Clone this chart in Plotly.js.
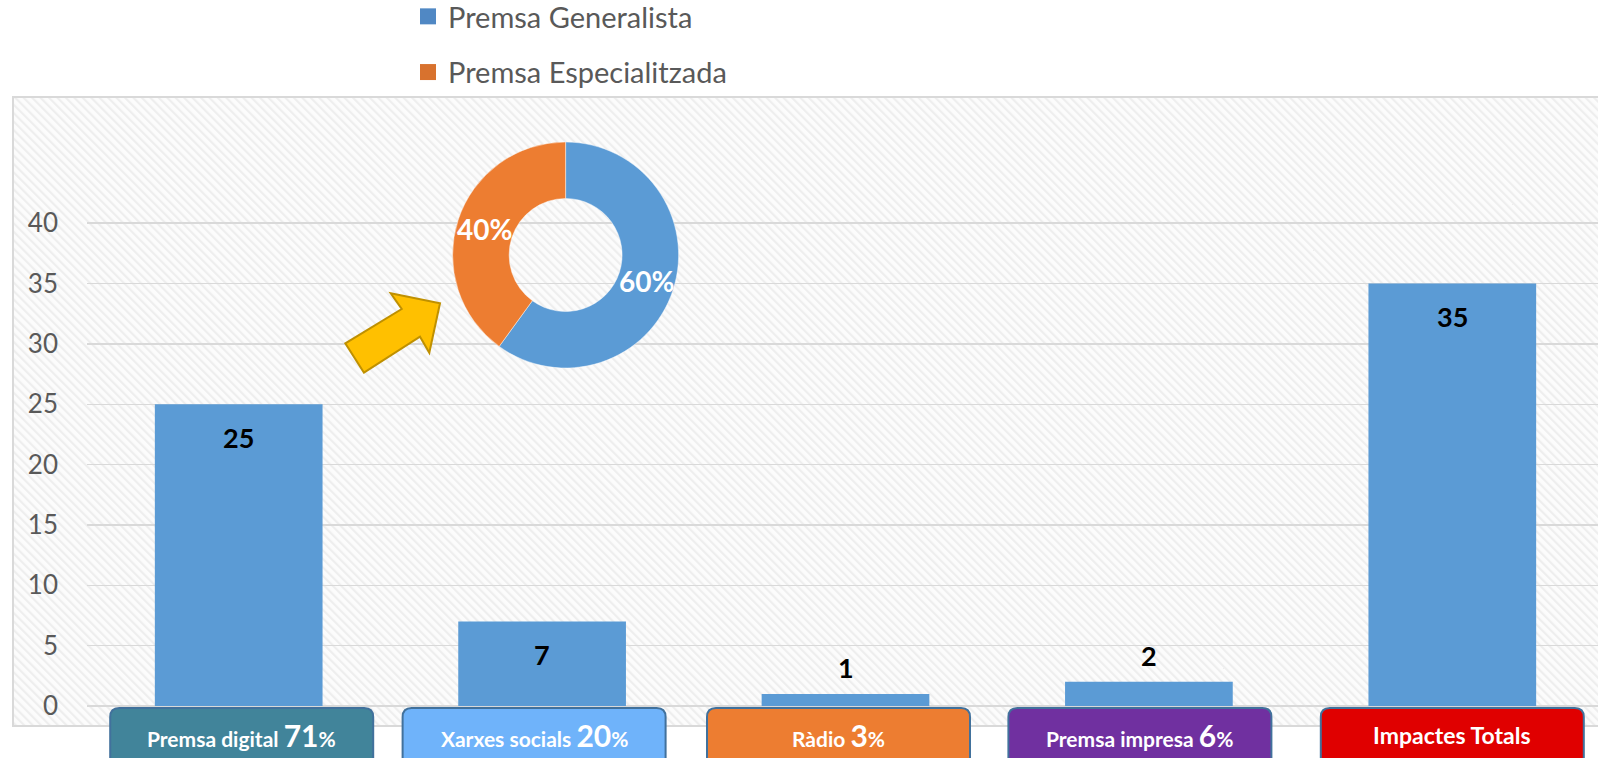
<!DOCTYPE html>
<html><head><meta charset="utf-8">
<script src="https://cdn.plot.ly/plotly-3.0.1.min.js"></script>
<style>html,body{margin:0;padding:0;background:#fff;overflow:hidden}</style>
</head><body><div id="chart" style="width:1598px;height:758px"></div>
<script>
// ---- data ----
const categories = ['Premsa digital', 'Xarxes socials', 'Ràdio', 'Premsa impresa', 'Impactes Totals'];
const impactes = [25, 7, 1, 2, 35];
const shares = [71, 20, 3, 6, null];
const pieLabels = ['Premsa Generalista', 'Premsa Especialitzada'];
const pieValues = [60, 40];
const yTicks = [0, 5, 10, 15, 20, 25, 30, 35, 40];

// ---- styles ----
const barColor = '#5b9bd5';
const pieColors = ['#5b9bd5', '#ed7d31'];
const legendColors = ['#5088c4', '#d8722e'];
const boxColors = ['#41849a', '#6fb3fa', '#ed7d31', '#7030a0', '#e00000'];
const boxShiftPx = [3, -8, -7, -9, 0];
const FONT = 'Lato, Carlito, "Open Sans", sans-serif';

// ---- layout geometry (pixels) ----
const W = 1598, H = 758, L = 87, R = 0, T = 97, B = 52;
const PW = W - L - R, PH = H - T - B;
const px = x => (x - L) / PW;
const py = y => (H - B - y) / PH;
const unitPx = 12.07;
const yMax = PH / unitPx;
const catStep = 303.4;
const xMax = -0.5 + PW / catStep;
const pieBox = {x0: 452.6, x1: 678.6, y0: 142, y1: 368};
const pieHole = 0.5;

// hatched background
const hatchSvg = "<svg xmlns='http://www.w3.org/2000/svg' width='1600' height='630'>" +
  "<defs><pattern id='p' width='6' height='6' patternUnits='userSpaceOnUse' patternTransform='rotate(-45)'>" +
  "<rect width='6' height='6' fill='#fcfcfc'/><rect width='2.2' height='6' fill='#eeeeee'/></pattern></defs>" +
  "<rect width='100%' height='100%' fill='url(#p)'/></svg>";
const hatchUri = 'data:image/svg+xml;charset=utf-8,' + encodeURIComponent(hatchSvg);

const traces = [];
traces.push({
  type: 'bar', x: categories, y: impactes,
  marker: {color: barColor}, showlegend: false, hoverinfo: 'skip'
});
traces.push({
  type: 'pie', labels: pieLabels, values: pieValues,
  hole: pieHole, sort: false, direction: 'clockwise', rotation: 0,
  marker: {colors: pieColors, line: {color: 'rgba(255,255,255,0.45)', width: 1}},
  textinfo: 'none',
  domain: {x: [px(pieBox.x0), px(pieBox.x1)], y: [py(pieBox.y1), py(pieBox.y0)]},
  showlegend: false, hoverinfo: 'skip'
});
pieLabels.forEach((lab, i) => {
  traces.push({
    type: 'scatter', mode: 'markers', x: [null], y: [null], name: lab,
    legendgroup: 'g' + i, showlegend: true,
    marker: {symbol: 'square', size: 16, color: legendColors[i]}
  });
});

const shapes = [];
// chart frame
shapes.push({type: 'rect', xref: 'paper', yref: 'paper', x0: px(13), x1: px(1605), y0: py(726), y1: py(97),
  line: {color: '#d9d9d9', width: 2}, fillcolor: 'rgba(0,0,0,0)', layer: 'below'});
// arrow
const arrowPts = [[364, 372.7], [345.3, 343.3], [401.7, 309], [390.7, 293.3], [440, 303.3], [429.3, 352.7], [420, 336.7]];
shapes.push({type: 'path', xref: 'paper', yref: 'paper',
  path: 'M' + arrowPts.map(p => px(p[0]).toFixed(5) + ',' + py(p[1]).toFixed(5)).join(' L') + ' Z',
  fillcolor: '#ffc000', line: {color: '#bf9000', width: 2}, layer: 'above'});
// category label boxes
const hw = 131.5 / catStep, rx = 9 / catStep, ry = 9 / PH;
const yTop = py(708), yBot = py(770);
categories.forEach((c, i) => {
  const ci = i + boxShiftPx[i] / catStep;
  const x0 = ci - hw, x1 = ci + hw;
  const path = `M${x0 + rx},${yTop} L${x1 - rx},${yTop} Q${x1},${yTop} ${x1},${yTop - ry} L${x1},${yBot + ry} Q${x1},${yBot} ${x1 - rx},${yBot} L${x0 + rx},${yBot} Q${x0},${yBot} ${x0},${yBot + ry} L${x0},${yTop - ry} Q${x0},${yTop} ${x0 + rx},${yTop} Z`;
  shapes.push({type: 'path', xref: 'x', yref: 'paper', path: path,
    fillcolor: boxColors[i], line: {color: '#41719c', width: 2}, layer: 'above'});
});

const annotations = [];
categories.forEach((c, i) => {
  const txt = shares[i] != null ? `${c} <span style="font-size:30px">${shares[i]}</span>%` : c;
  annotations.push({xref: 'x', yref: 'paper', x: c, y: py(735), yanchor: 'middle', xanchor: 'center',
    xshift: boxShiftPx[i],
    text: txt, showarrow: false,
    font: {family: FONT, size: shares[i] != null ? 21 : 23, color: '#ffffff', weight: 'bold'}});
  annotations.push({xref: 'x', yref: 'y', x: c, y: impactes[i], yanchor: 'middle', xanchor: 'center',
    yshift: impactes[i] >= 5 ? -33 : 26, text: String(impactes[i]), showarrow: false,
    font: {family: FONT, size: 27, color: '#000000', weight: 'bold'}});
});
// donut percentage labels, at the middle of each ring slice
const pieTotal = pieValues.reduce((a, b) => a + b, 0);
const pcx = (pieBox.x0 + pieBox.x1) / 2, pcy = (pieBox.y0 + pieBox.y1) / 2;
const pR = (pieBox.x1 - pieBox.x0) / 2, rMid = pR * (1 + pieHole) / 2;
let cum = 0;
pieValues.forEach((v, i) => {
  const a = (cum + v / 2) / pieTotal * 2 * Math.PI;
  cum += v;
  annotations.push({xref: 'paper', yref: 'paper',
    x: px(pcx + rMid * Math.sin(a)), y: py(pcy - rMid * Math.cos(a)),
    xanchor: 'center', yanchor: 'middle', showarrow: false,
    text: Math.round(v / pieTotal * 100) + '%',
    font: {family: FONT, size: 28, color: '#ffffff', weight: 'bold'}});
});

const layout = {
  width: W, height: H,
  margin: {l: L, r: R, t: T, b: B, pad: 0, autoexpand: false},
  paper_bgcolor: '#ffffff', plot_bgcolor: 'rgba(0,0,0,0)',
  font: {family: FONT, color: '#595959'},
  bargap: 1 - 167.7 / catStep,
  xaxis: {type: 'category', range: [-0.5, xMax], showticklabels: false, showgrid: false,
    zeroline: false, showline: false, ticks: '', fixedrange: true, automargin: false},
  yaxis: {range: [0, yMax], tickvals: yTicks, ticktext: yTicks.map(String),
    showgrid: true, gridcolor: '#d9d9d9', gridwidth: 1.5,
    zeroline: true, zerolinecolor: '#d9d9d9', zerolinewidth: 1.5,
    showline: false, ticks: '', ticklabelstandoff: 28, automargin: false,
    tickfont: {family: FONT, size: 26, color: '#595959'}, fixedrange: true},
  showlegend: true,
  legend: {x: px(408), y: py(-9), xanchor: 'left', yanchor: 'top', traceorder: 'grouped',
    tracegroupgap: 15, bgcolor: 'rgba(0,0,0,0)',
    font: {family: FONT, size: 29, color: '#595959'}},
  images: [{source: hatchUri, xref: 'paper', yref: 'paper', x: px(13), y: py(97),
    sizex: px(1605) - px(13), sizey: py(97) - py(726), xanchor: 'left', yanchor: 'top',
    sizing: 'stretch', layer: 'below'}],
  shapes: shapes,
  annotations: annotations
};

Plotly.newPlot('chart', traces, layout, {displayModeBar: false, staticPlot: true});
</script>
</body></html>
